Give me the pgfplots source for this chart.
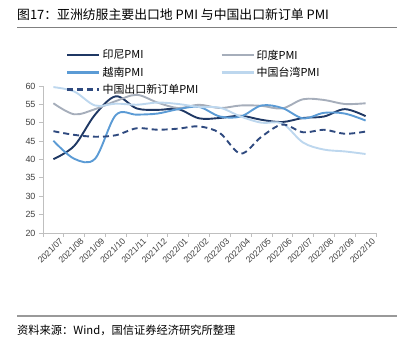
\documentclass[border=0pt]{standalone}
\usepackage{fontspec}
\setmainfont{Liberation Sans}
\newfontfamily\cjk{Noto Sans CJK SC}
\usepackage{pgfplots}
\pgfplotsset{compat=1.18}
\definecolor{cIndo}{HTML}{1F3864}
\definecolor{cIndia}{HTML}{A6AEBB}
\definecolor{cVn}{HTML}{5B9BD5}
\definecolor{cTw}{HTML}{BDD7EE}
\definecolor{cCn}{HTML}{2F4A7F}
\definecolor{cAxis}{HTML}{BFBFBF}
\definecolor{cTxt}{HTML}{404040}
\begin{document}
\begin{tikzpicture}
\path[use as bounding box] (0,0) rectangle (403bp,353bp);
\node[anchor=west,inner sep=0pt] at (17bp,338bp) {\cjk\fontsize{12.9}{14}\selectfont 图17：亚洲纺服主要出口地 PMI 与中国出口新订单 PMI};
\draw[color=gray,line width=1bp] (17bp,325bp) -- (397bp,325bp);
\draw[color=gray!80,line width=1.6bp] (17bp,37bp) -- (397bp,37bp);
\node[anchor=west,inner sep=0pt] at (17bp,23bp) {\cjk\fontsize{11.3}{13}\selectfont 资料来源：Wind，国信证券经济研究所整理};
\begin{axis}[
  at={(43bp,120bp)}, anchor=south west,
  scale only axis, width=333bp, height=147bp,
  xmin=-0.5, xmax=15.5, ymin=20, ymax=60,
  axis lines*=left,
  axis line style={cAxis, line width=0.8bp},
  every axis plot/.append style={line width=1.9bp, smooth, tension=0.55},
  xtick={0,...,15},
  xticklabels={2021/07,2021/08,2021/09,2021/10,2021/11,2021/12,2022/01,2022/02,2022/03,2022/04,2022/05,2022/06,2022/07,2022/08,2022/09,2022/10},
  major x tick style={draw=none},
  minor xtick={-0.5,0.5,...,15.5},
  minor tick length=4bp,
  minor x tick style={cAxis, line width=0.8bp},
  ytick={20,25,...,60},
  major tick length=4bp,
  major y tick style={cAxis, line width=0.8bp},
  tick align=outside,
  /pgf/number format/assume math mode=true,
  tick label style={font=\fontsize{9}{10}\selectfont, color=cTxt},
  x tick label style={rotate=45, anchor=north east, xshift=5bp, yshift=-3bp, inner sep=1pt, font=\fontsize{8.7}{10}\selectfont},
  legend columns=2,
  legend cell align=left,
  legend style={at={(0.06,1.275)}, anchor=north west, draw=none, fill=none,
    font=\cjk\fontsize{11}{12}\selectfont, row sep=2.5bp,
    /tikz/every even column/.append style={column sep=20bp}},
  legend image code/.code={\draw[#1, line width=2.4bp] (0bp,0bp) -- (32bp,0bp);},
  clip=false,
]
\addplot[color=cIndo] coordinates {(0,40.1)(1,43.7)(2,52.2)(3,57.2)(4,53.9)(5,53.5)(6,53.7)(7,51.2)(8,51.3)(9,51.9)(10,50.8)(11,50.2)(12,51.3)(13,51.7)(14,53.7)(15,51.8)};
\addlegendentry{印尼PMI}
\addplot[color=cIndia] coordinates {(0,55.3)(1,52.3)(2,53.7)(3,55.9)(4,57.6)(5,55.5)(6,54.0)(7,54.9)(8,54.0)(9,54.7)(10,54.6)(11,53.9)(12,56.4)(13,56.2)(14,55.1)(15,55.3)};
\addlegendentry{印度PMI}
\addplot[color=cVn] coordinates {(0,45.1)(1,40.2)(2,40.2)(3,52.1)(4,52.2)(5,52.5)(6,53.7)(7,54.3)(8,51.7)(9,51.7)(10,54.7)(11,54.0)(12,51.2)(13,52.7)(14,52.5)(15,50.6)};
\addlegendentry{越南PMI}
\addplot[color=cTw] coordinates {(0,59.7)(1,58.5)(2,54.7)(3,55.2)(4,54.9)(5,55.5)(6,55.1)(7,54.3)(8,54.1)(9,51.7)(10,50.0)(11,49.8)(12,44.6)(13,42.7)(14,42.2)(15,41.5)};
\addlegendentry{中国台湾PMI}
\addplot[color=cCn, dash pattern=on 6bp off 4bp] coordinates {(0,47.7)(1,46.7)(2,46.2)(3,46.6)(4,48.5)(5,48.1)(6,48.4)(7,49.0)(8,47.2)(9,41.6)(10,46.2)(11,49.5)(12,47.4)(13,48.1)(14,47.0)(15,47.6)};
\addlegendentry{中国出口新订单PMI}
\end{axis}
\end{tikzpicture}
\end{document}
